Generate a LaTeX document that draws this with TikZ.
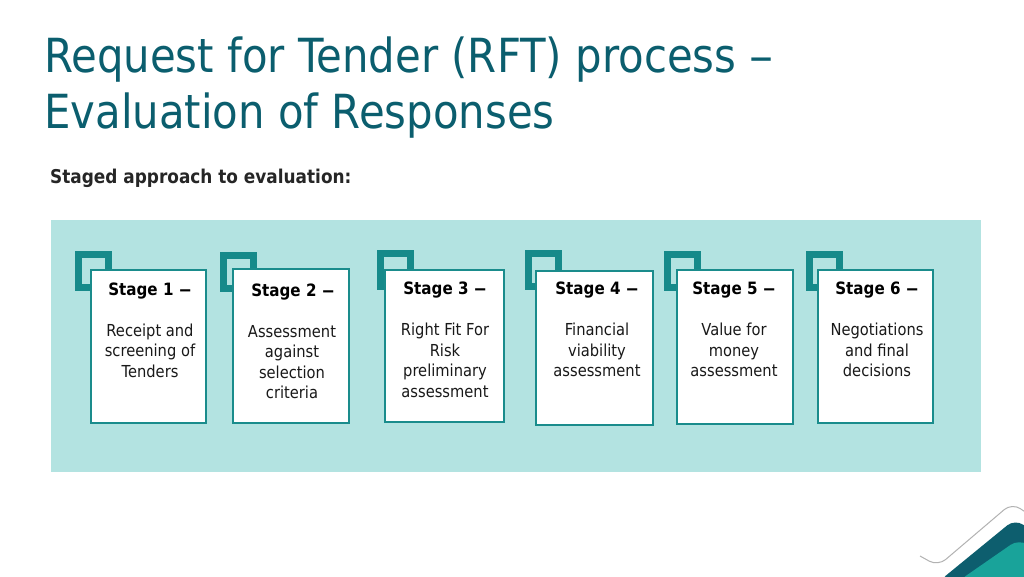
\documentclass[tikz,border=0pt]{standalone}
\usepackage{fontspec}
\newfontfamily\tfont[FakeStretch=0.89]{DejaVu Sans}
\newcommand{\wdash}{\scalebox{1.7}[1]{–}}
\definecolor{titleteal}{HTML}{0B5E6E}
\definecolor{panelbg}{HTML}{B3E3E1}
\definecolor{sqteal}{HTML}{168A8A}
\definecolor{boxteal}{HTML}{1A8C8C}
\definecolor{darkband}{HTML}{0D5E6E}
\definecolor{lightband}{HTML}{19A39A}
\definecolor{subgray}{HTML}{262626}
\begin{document}
\begin{tikzpicture}[x=1pt,y=-1pt,
  panel/.style={fill=panelbg, draw=none},
  sq/.style={draw=sqteal, line width=7pt, fill=none, inner sep=0pt, minimum width=30pt, minimum height=33pt},
  stagebox/.style={draw=boxteal, line width=1.5pt, fill=white, inner sep=0pt, minimum width=115pt, minimum height=153pt},
  stagelbl/.style={anchor=base, inner sep=0pt, font=\tfont\bfseries\fontsize{17}{20}\selectfont, text=black},
  body/.style={anchor=base, inner sep=0pt, align=center, font=\tfont\fontsize{16.5}{20.5}\selectfont, text=black!90},
]
\useasboundingbox (0,0) rectangle (1024,576);
\fill[white] (0,0) rectangle (1024,576);

% title (base anchor = last line's baseline)
\node[anchor=base west, inner sep=0pt, align=left, text=titleteal,
  font=\tfont\fontsize{47}{56}\selectfont] (title) at (44,128)
  {Request for Tender (RFT) process \scalebox{1.15}[1]{–}\\Evaluation of Responses};
\node[anchor=base west, inner sep=0pt, text=subgray,
  font=\tfont\bfseries\fontsize{19}{22}\selectfont] (sub) at (50,183)
  {Staged approach to evaluation:};

% panel
\path[panel] (51,220) rectangle (981,472);

% squares
\node[sq] (s1) at (93.5,271) {};
\node[sq] (s2) at (238.5,272) {};
\node[sq] (s3) at (395.5,269.5) {};
\node[sq] (s4) at (543.5,269.5) {};
\node[sq] (s5) at (682.5,271) {};
\node[sq] (s6) at (824.5,271) {};

% boxes
\node[stagebox, minimum width=115pt, minimum height=153pt] (b1) at (148.5,346.5) {};
\node[stagebox, minimum width=116pt, minimum height=154pt] (b2) at (291,346) {};
\node[stagebox, minimum width=119pt, minimum height=152pt] (b3) at (444.5,346) {};
\node[stagebox, minimum width=117pt, minimum height=154pt] (b4) at (594.5,348) {};
\node[stagebox, minimum width=116pt, minimum height=154pt] (b5) at (735,347) {};
\node[stagebox, minimum width=115pt, minimum height=153pt] (b6) at (875.5,346.5) {};

% labels
\node[stagelbl] (l1) at (150,295) {Stage 1 \wdash};
\node[stagelbl] (l2) at (293,296) {Stage 2 \wdash};
\node[stagelbl] (l3) at (445,294) {Stage 3 \wdash};
\node[stagelbl] (l4) at (597,294) {Stage 4 \wdash};
\node[stagelbl] (l5) at (734,294) {Stage 5 \wdash};
\node[stagelbl] (l6) at (877,294) {Stage 6 \wdash};

% body texts (base anchor = last line's baseline)
\node[body] (t1) at (150,377) {Receipt and\\screening of\\Tenders};
\node[body] (t2) at (292,398.5) {Assessment\\against\\selection\\criteria};
\node[body] (t3) at (445,397) {Right Fit For\\Risk\\preliminary\\assessment};
\node[body] (t4) at (597,376.5) {Financial\\viability\\assessment};
\node[body] (t5) at (734,376.5) {Value for\\money\\assessment};
\node[body] (t6) at (877,376.5) {Negotiations\\and final\\decisions};

% corner decoration
\begin{scope}
\clip (0,0) rectangle (1024,576);
\draw[black!30, line width=1pt, rounded corners=10pt] (920,556) -- (938,566) -- (1012,503) -- (1040,522);
\fill[darkband, rounded corners=10pt] (938,582) -- (1015,519) -- (1045,540) -- (1045,590) -- cycle;
\fill[lightband, rounded corners=10pt] (957,582) -- (1019,539) -- (1045,556) -- (1045,590) -- cycle;
\end{scope}
\end{tikzpicture}
\end{document}
